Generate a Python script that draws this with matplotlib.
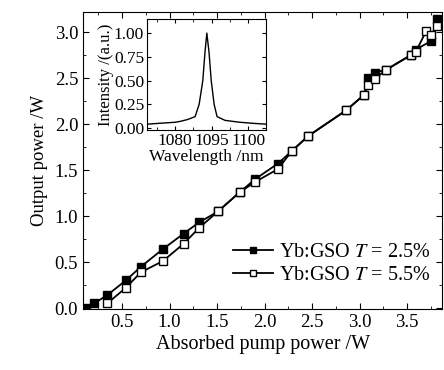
import numpy as np
import matplotlib
matplotlib.use('Agg')
import matplotlib.pyplot as plt
from matplotlib.ticker import MultipleLocator

plt.rcParams['font.family'] = ['Liberation Serif', 'DejaVu Serif']
plt.rcParams['mathtext.fontset'] = 'stix'

# pump power / output power, T = 2.5 %
pump_25 = [0.12, 0.205, 0.345, 0.54, 0.70, 0.93, 1.15, 1.31, 1.51, 1.74, 1.90, 2.14, 2.29, 2.46,
           2.86, 3.05, 3.09, 3.16, 3.28, 3.54, 3.59, 3.75, 3.82]
out_25 = [0.00, 0.05, 0.14, 0.30, 0.45, 0.64, 0.81, 0.93, 1.05, 1.26, 1.40, 1.57, 1.71, 1.87,
          2.15, 2.32, 2.50, 2.56, 2.59, 2.75, 2.81, 2.90, 3.14]

# T = 5.5 %
pump_55 = [0.345, 0.54, 0.70, 0.93, 1.15, 1.31, 1.51, 1.74, 1.90, 2.14, 2.29, 2.46,
           2.86, 3.05, 3.09, 3.16, 3.28, 3.54, 3.59, 3.70, 3.75, 3.82]
out_55 = [0.05, 0.22, 0.39, 0.51, 0.70, 0.87, 1.05, 1.26, 1.37, 1.51, 1.71, 1.87,
          2.15, 2.32, 2.43, 2.49, 2.59, 2.75, 2.78, 3.01, 2.97, 3.07]

# inset spectrum
wl = [1072.3, 1076.0, 1080.0, 1081.5, 1083.5, 1085.5, 1086.6, 1087.6, 1088.2, 1088.7,
      1089.3, 1089.9, 1090.7, 1091.5, 1093.7, 1097.8, 1101.0, 1104.9]
inten = [0.04, 0.05, 0.06, 0.07, 0.09, 0.12, 0.25, 0.50, 0.80, 1.00,
         0.80, 0.50, 0.25, 0.12, 0.08, 0.06, 0.05, 0.04]

fig = plt.figure(figsize=(4.44, 3.70), dpi=100)
ax = fig.add_axes([0.187, 0.165, 0.809, 0.803])

ax.plot(pump_25, out_25, color='black', lw=1.3, marker='s', ms=5.5,
        mfc='black', mec='black', label='Yb:GSO $T$ = 2.5%')
ax.plot(pump_55, out_55, color='black', lw=1.3, marker='s', ms=5.5,
        mfc='white', mec='black', label='Yb:GSO $T$ = 5.5%')

ax.set_xlim(0.09, 3.87)
ax.set_ylim(-0.01, 3.22)
ax.xaxis.set_major_locator(MultipleLocator(0.5))
ax.xaxis.set_minor_locator(MultipleLocator(0.25))
ax.yaxis.set_major_locator(MultipleLocator(0.5))
ax.yaxis.set_minor_locator(MultipleLocator(0.25))
ax.xaxis.set_major_formatter(plt.FormatStrFormatter('%.1f'))
ax.yaxis.set_major_formatter(plt.FormatStrFormatter('%.1f'))
ax.tick_params(which='both', direction='in', top=True, right=True, labelsize=13.5)
ax.tick_params(which='major', length=4)
ax.tick_params(which='minor', length=2.5)
ax.set_xlabel('Absorbed pump power /W', fontsize=14.5, labelpad=3)
ax.set_ylabel('Output power /W', fontsize=13.5, labelpad=5)

ax.legend(loc='lower right', frameon=False, fontsize=14.5, handlelength=2.0,
          handletextpad=0.3, labelspacing=0.15, borderaxespad=0.0,
          markerscale=0.75, bbox_to_anchor=(0.99, 0.055))

ins = fig.add_axes([0.331, 0.649, 0.268, 0.30])
ins.plot(wl, inten, color='black', lw=1.0)
ins.set_xlim(1072.3, 1104.9)
ins.set_ylim(-0.02, 1.15)
ins.set_xticks([1080, 1090, 1100], labels=['1080', '1095', '1100'])
ins.xaxis.set_minor_locator(MultipleLocator(5))
ins.set_yticks([0.0, 0.25, 0.5, 0.75, 1.0])
ins.yaxis.set_major_formatter(plt.FormatStrFormatter('%.2f'))
ins.tick_params(which='both', direction='in', top=True, right=True, labelsize=12.5, pad=2)
ins.tick_params(which='major', length=3)
ins.tick_params(which='minor', length=2)
ins.set_xlabel('Wavelength /nm', fontsize=12.5, labelpad=0)
ins.set_ylabel('Intensity /(a.u.)', fontsize=12, labelpad=0)

fig.savefig('out.png', dpi=100)
